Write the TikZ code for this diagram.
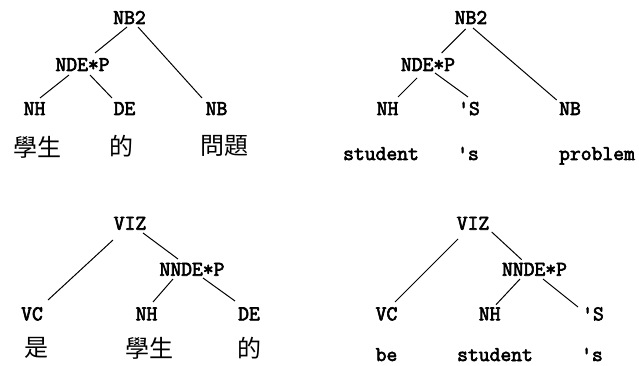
\documentclass[tikz,border=0pt]{standalone}
\usepackage{fontspec}
\newfontfamily\cjk{Noto Sans CJK TC}
\newfontfamily\tagfont{Latin Modern Mono}[FakeBold=3]
\begin{document}
\begin{tikzpicture}[x=1pt,y=-1pt,
  tag/.style={inner sep=0pt,anchor=base,font=\fontsize{21}{21}\selectfont\tagfont},
  word/.style={inner sep=0pt,anchor=base,font=\fontsize{21}{21}\selectfont\tagfont},
  han/.style={inner sep=0pt,anchor=center,font=\fontsize{24}{24}\selectfont\cjk},
  edge/.style={line width=1pt,black}]
\useasboundingbox (0,0) rectangle (639,366);
% ---- top left
\node[tag] (nb2L) at (129.5,24) {NB2};
\node[tag] (ndeL) at (82.5,71) {NDE*P};
\node[tag] (nhL) at (34.5,115) {NH};
\node[tag] (deL) at (124.5,115) {DE};
\node[tag] (nbL) at (216.5,115) {NB};
\node[han] (xsL) at (37,147) {學生};
\node[han] (deCL) at (121,146) {的};
\node[han] (wtL) at (224,146) {問題};
\draw[edge] ([shift={(-2.5,3)}]nb2L.base) -- ([shift={(12.5,-18)}]ndeL.base);
\draw[edge] ([shift={(8.5,3)}]nb2L.base) -- ([shift={(-14.5,-17)}]nbL.base);
\draw[edge] ([shift={(-13.5,4)}]ndeL.base) -- ([shift={(5.5,-17)}]nhL.base);
\draw[edge] ([shift={(7.5,4)}]ndeL.base) -- ([shift={(-12.5,-17)}]deL.base);
% ---- top right
\node[tag] (nb2R) at (471,24) {NB2};
\node[tag] (ndeR) at (428,71) {NDE*P};
\node[tag] (nhR) at (387.5,115) {NH};
\node[tag] (sR) at (469,115) {'S};
\node[tag] (nbR) at (570,115) {NB};
\node[word] (stR) at (381,160) {student};
\node[word] (apsR) at (468,160) {'s};
\node[word] (prR) at (597,160) {problem};
\draw[edge] ([shift={(-5.3,5)}]nb2R.base) -- ([shift={(13.7,-18)}]ndeR.base);
\draw[edge] ([shift={(2,4)}]nb2R.base) -- ([shift={(-13.3,-15)}]nbR.base);
\draw[edge] ([shift={(-11,7)}]ndeR.base) -- ([shift={(10.5,-18)}]nhR.base);
\draw[edge] ([shift={(7,2)}]ndeR.base) -- ([shift={(-1,-18)}]sR.base);
% ---- bottom left
\node[tag] (vizL) at (130,229.7) {VIZ};
\node[tag] (nndeL) at (192,275.7) {NNDE*P};
\node[tag] (vcL) at (32,320.3) {VC};
\node[tag] (nh2L) at (146.5,320.3) {NH};
\node[tag] (de2L) at (249,320.3) {DE};
\node[han] (shiL) at (36,348) {是};
\node[han] (xs2L) at (149,348) {學生};
\node[han] (de2CL) at (249,348) {的};
\draw[edge] ([shift={(-17,10.3)}]vizL.base) -- ([shift={(16,-20.3)}]vcL.base);
\draw[edge] ([shift={(13,3.3)}]vizL.base) -- ([shift={(-14,-16.7)}]nndeL.base);
\draw[edge] ([shift={(-19,3.3)}]nndeL.base) -- ([shift={(6.5,-18.3)}]nh2L.base);
\draw[edge] ([shift={(11,2.3)}]nndeL.base) -- ([shift={(-14,-19.3)}]de2L.base);
% ---- bottom right
\node[tag] (vizR) at (473,229.7) {VIZ};
\node[tag] (nndeR) at (534.5,275.7) {NNDE*P};
\node[tag] (vcR) at (386.5,320.3) {VC};
\node[tag] (nh2R) at (489.7,320.3) {NH};
\node[tag] (s2R) at (593,320.3) {'S};
\node[word] (beR) at (386.5,361) {be};
\node[word] (st2R) at (495,361) {student};
\node[word] (aps2R) at (592,361) {'s};
\draw[edge] ([shift={(-15,9.3)}]vizR.base) -- ([shift={(8.5,-18.3)}]vcR.base);
\draw[edge] ([shift={(18.7,2.3)}]vizR.base) -- ([shift={(-12.8,-16)}]nndeR.base);
\draw[edge] ([shift={(-14.5,3.3)}]nndeR.base) -- ([shift={(6.3,-15.6)}]nh2R.base);
\draw[edge] ([shift={(8.5,3.3)}]nndeR.base) -- ([shift={(-15,-13.3)}]s2R.base);
\end{tikzpicture}
\end{document}
